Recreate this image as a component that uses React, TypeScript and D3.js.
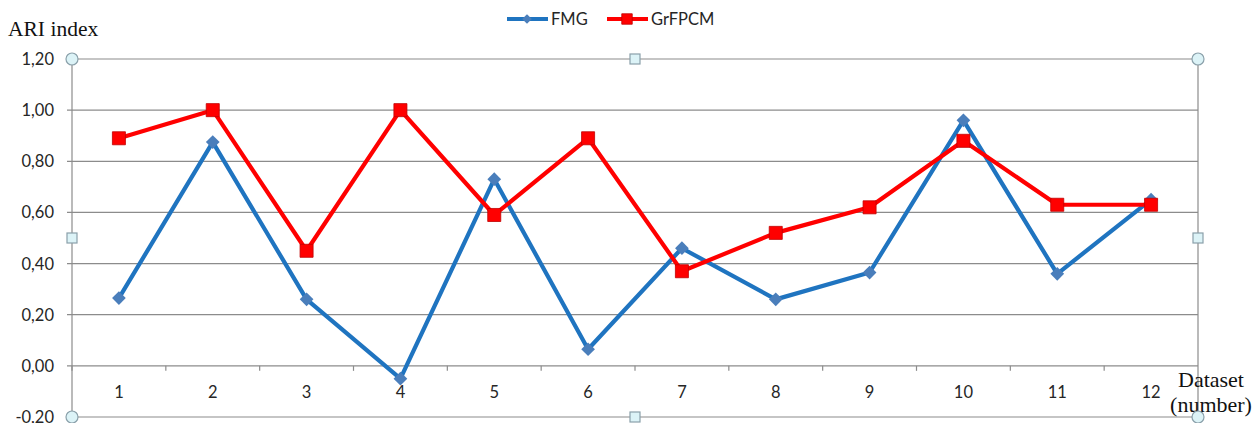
import React from "react";
import * as d3 from "d3";

const categories = ["1", "2", "3", "4", "5", "6", "7", "8", "9", "10", "11", "12"];
const fmgValues = [0.265, 0.875, 0.26, -0.05, 0.73, 0.065, 0.46, 0.26, 0.365, 0.96, 0.36, 0.65];
const grfpcmValues = [0.89, 1.0, 0.45, 1.0, 0.59, 0.89, 0.37, 0.52, 0.62, 0.88, 0.63, 0.63];
const yTicks = [-0.2, 0, 0.2, 0.4, 0.6, 0.8, 1.0, 1.2];
const seriesNames = ["FMG", "GrFPCM"];

const W = 1256;
const H = 423;
const left = 72;
const right = 1198;
const top = 59;
const bottom = 417;

export default function App() {
  const x = d3.scaleBand<string>().domain(categories).range([left, right]).paddingInner(0).paddingOuter(0);
  const y = d3.scaleLinear().domain([-0.2, 1.2]).range([bottom, top]);
  const cx = (c: string) => (x(c) as number) + x.bandwidth() / 2;
  const line = d3.line<number>().x((_, i) => cx(categories[i])).y((v) => y(v));
  const fmt = (v: number) => v.toFixed(2).replace(".", ",");
  const sans = "Lato, 'Open Sans', sans-serif";
  const serif = "'Liberation Serif', 'DejaVu Serif', serif";
  const gridColor = "#8c8c8c";
  const blue = "#1f74c0";
  const red = "#ff0000";
  const diamond = d3.symbol().type(d3.symbolDiamond2).size(120)();
  const square = d3.symbol().type(d3.symbolSquare).size(170)();
  const y0 = y(0);
  const midX = (left + right) / 2;
  const midY = (top + bottom) / 2;

  return (
    <svg width={W} height={H} style={{ position: "absolute", left: 0, top: 0, background: "#fff" }}>
      {yTicks.map((t) => (
        <line key={t} x1={left - 5} x2={right} y1={y(t)} y2={y(t)} stroke={gridColor} strokeWidth={1.2} />
      ))}
      <line x1={left} x2={left} y1={top} y2={bottom} stroke={gridColor} strokeWidth={1.2} />
      <line x1={right} x2={right} y1={top} y2={bottom} stroke={gridColor} strokeWidth={1.2} />
      {categories.map((c) => (
        <line key={"t" + c} x1={x(c) as number} x2={x(c) as number} y1={y0} y2={y0 + 5} stroke={gridColor} strokeWidth={1.2} />
      ))}
      {yTicks.map((t) => (
        <text key={"l" + t} x={54} y={y(t) + 6} textAnchor="end" fontFamily={sans} fontSize={16.5} fill="#262626">
          {fmt(t)}
        </text>
      ))}
      {categories.map((c) => (
        <text key={"x" + c} x={cx(c)} y={y0 + 32} textAnchor="middle" fontFamily={sans} fontSize={16.5} fill="#262626">
          {c}
        </text>
      ))}
      <text x={8} y={36} fontFamily={serif} fontSize={21.5} fill="#111">ARI index</text>
      <text x={1211} y={387} textAnchor="middle" fontFamily={serif} fontSize={22} fill="#111">Dataset</text>
      <text x={1211} y={412} textAnchor="middle" fontFamily={serif} fontSize={22} fill="#111">(number)</text>
      <path d={line(fmgValues) as string} fill="none" stroke={blue} strokeWidth={4.2} strokeLinejoin="round" />
      <path d={line(grfpcmValues) as string} fill="none" stroke={red} strokeWidth={4.2} strokeLinejoin="round" />
      {fmgValues.map((v, i) => (
        <path key={"d" + i} d={diamond as string} transform={`translate(${cx(categories[i])},${y(v)})`} fill="#4a7ebb" />
      ))}
      {grfpcmValues.map((v, i) => (
        <path key={"s" + i} d={square as string} transform={`translate(${cx(categories[i])},${y(v)})`} fill={red} stroke="#c00000" strokeWidth={0.8} />
      ))}
      <g>
        <line x1={507} x2={548} y1={19} y2={19} stroke={blue} strokeWidth={4} />
        <path d={d3.symbol().type(d3.symbolDiamond2).size(60)() as string} transform="translate(527,19)" fill="#4a7ebb" />
        <text x={551} y={25} fontFamily={sans} fontSize={16.5} fill="#262626">{seriesNames[0]}</text>
        <line x1={607} x2={648} y1={19} y2={19} stroke={red} strokeWidth={4} />
        <path d={d3.symbol().type(d3.symbolSquare).size(110)() as string} transform="translate(627,19)" fill={red} stroke="#c00000" strokeWidth={0.8} />
        <text x={651} y={25} fontFamily={sans} fontSize={16.5} fill="#262626">{seriesNames[1]}</text>
      </g>
      {[[left, top], [right, top], [left, bottom], [right, bottom]].map(([hx, hy], i) => (
        <circle key={"c" + i} cx={hx} cy={hy} r={6} fill="#dcf3f7" stroke="#8aa0aa" strokeWidth={1.2} />
      ))}
      {[[midX, top], [left, midY], [right, midY], [midX, bottom]].map(([hx, hy], i) => (
        <rect key={"r" + i} x={hx - 5} y={hy - 5} width={10} height={10} fill="#dcf3f7" stroke="#8aa0aa" strokeWidth={1.2} />
      ))}
    </svg>
  );
}
